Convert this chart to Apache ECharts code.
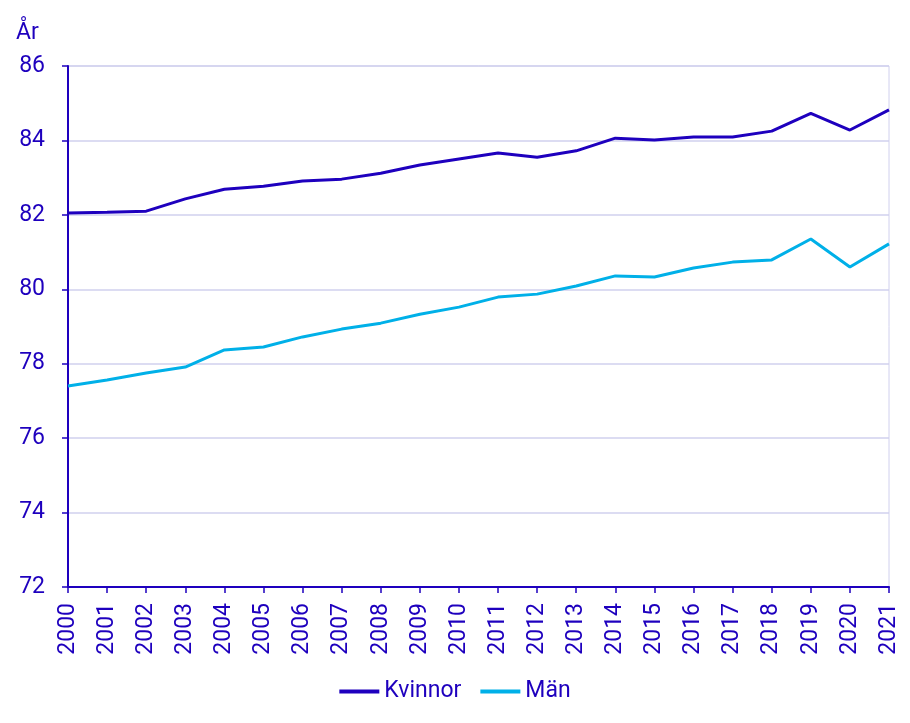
<!DOCTYPE html>
<html><head><meta charset="utf-8">
<script src="https://cdn.jsdelivr.net/npm/echarts@6/dist/echarts.min.js"></script>
<style>html,body{margin:0;padding:0;background:#fff}#c{width:910px;height:723px}</style>
</head><body><div id="c"></div>
<script>
const years = ['2000','2001','2002','2003','2004','2005','2006','2007','2008','2009','2010','2011','2012','2013','2014','2015','2016','2017','2018','2019','2020','2021'];
const kvinnor = [82.05,82.07,82.10,82.43,82.69,82.77,82.91,82.96,83.12,83.34,83.50,83.66,83.55,83.72,84.06,84.01,84.09,84.09,84.25,84.73,84.28,84.82];
const man = [77.40,77.56,77.75,77.91,78.37,78.45,78.72,78.93,79.09,79.33,79.52,79.79,79.87,80.09,80.36,80.33,80.57,80.73,80.79,81.35,80.60,81.22];
const yTicks = {min:72, max:86, interval:2};
const txt = '#1e00be';
const chart = echarts.init(document.getElementById('c'));
chart.setOption({
  animation:false,
  textStyle:{fontFamily:'Roboto'},
  title:{text:'År', left:11, top:17, textStyle:{color:txt, fontSize:23, fontWeight:'normal', fontFamily:'Roboto'}},
  grid:{left:68, right:21, top:66, bottom:136, show:true, borderColor:'#d0d0ee', borderWidth:1},
  legend:{bottom:15, left:'center', itemWidth:40, itemHeight:4, itemGap:19, icon:'rect',
    textStyle:{color:txt, fontSize:23, fontFamily:'Roboto'}, data:['Kvinnor','Män']},
  xAxis:{type:'category', data:years, boundaryGap:false,
    axisLine:{lineStyle:{color:txt, width:2}},
    axisTick:{show:true, length:6, lineStyle:{color:txt, width:1.5}},
    axisLabel:{rotate:90, color:txt, fontSize:23, margin:16, interval:0},
    splitLine:{show:false}},
  yAxis:{type:'value', min:yTicks.min, max:yTicks.max, interval:yTicks.interval,
    axisLine:{show:true, lineStyle:{color:txt, width:2}},
    axisTick:{show:true, length:6, lineStyle:{color:txt, width:1.5}},
    axisLabel:{color:txt, fontSize:23, margin:23},
    splitLine:{lineStyle:{color:'#d0d0ee', width:1.5}}},
  series:[
    {name:'Kvinnor', type:'line', data:kvinnor, symbol:'none', lineStyle:{color:'#1e00be', width:3}, itemStyle:{color:'#1e00be'}},
    {name:'Män', type:'line', data:man, symbol:'none', lineStyle:{color:'#00b0e8', width:3}, itemStyle:{color:'#00b0e8'}}
  ]
});
</script></body></html>
